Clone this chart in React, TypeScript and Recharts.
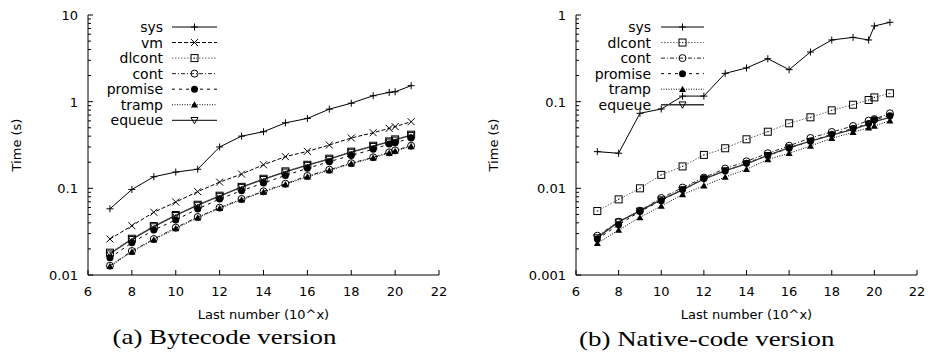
import { LineChart, Line, XAxis, YAxis } from 'recharts';

// x = log10 of the last number
const xs = [7, 8, 9, 10, 11, 12, 13, 14, 15, 16, 17, 18, 19, 19.73, 20, 20.73];
const xTicks = [6, 8, 10, 12, 14, 16, 18, 20, 22];

// (a) bytecode version, seconds
const bytecodeSys = [0.058, 0.097, 0.136, 0.154, 0.166, 0.3, 0.4, 0.45, 0.57, 0.64, 0.82, 0.96, 1.17, 1.28, 1.3, 1.53];
const bytecodeVm = [0.026, 0.037, 0.053, 0.0695, 0.0916, 0.118, 0.146, 0.187, 0.232, 0.267, 0.316, 0.381, 0.438, 0.492, 0.515, 0.587];
const bytecodeDlcont = [0.0181, 0.0262, 0.0367, 0.0492, 0.0647, 0.0822, 0.104, 0.129, 0.157, 0.187, 0.22, 0.265, 0.31, 0.348, 0.367, 0.416];
const bytecodeCont = [0.0128, 0.0189, 0.026, 0.0352, 0.0467, 0.0598, 0.0754, 0.0923, 0.113, 0.139, 0.164, 0.195, 0.228, 0.26, 0.274, 0.31];
const bytecodePromise = [0.0158, 0.0236, 0.033, 0.0432, 0.0578, 0.0754, 0.094, 0.115, 0.141, 0.17, 0.203, 0.24, 0.282, 0.325, 0.336, 0.381];
const bytecodeTramp = [0.0126, 0.0185, 0.0255, 0.0345, 0.0458, 0.0588, 0.074, 0.091, 0.111, 0.136, 0.161, 0.192, 0.225, 0.256, 0.27, 0.305];
const bytecodeEqueue = [0.0176, 0.0258, 0.0362, 0.0488, 0.064, 0.0812, 0.103, 0.127, 0.155, 0.185, 0.217, 0.262, 0.306, 0.344, 0.362, 0.41];

// (b) native-code version, seconds
const nativeSys = [0.0265, 0.0254, 0.0734, 0.0823, 0.116, 0.116, 0.212, 0.245, 0.313, 0.234, 0.374, 0.515, 0.552, 0.515, 0.747, 0.823];
const nativeDlcont = [0.00547, 0.00746, 0.01, 0.0143, 0.0179, 0.0243, 0.029, 0.0368, 0.045, 0.0563, 0.066, 0.0794, 0.0922, 0.1045, 0.112, 0.125];
const nativeCont = [0.00284, 0.00412, 0.00552, 0.00773, 0.0102, 0.0133, 0.0169, 0.0205, 0.0254, 0.031, 0.0381, 0.0447, 0.0524, 0.0604, 0.063, 0.0734];
const nativePromise = [0.0026, 0.0038, 0.0054, 0.0072, 0.0097, 0.013, 0.0158, 0.0195, 0.024, 0.029, 0.035, 0.042, 0.049, 0.056, 0.062, 0.069];
const nativeTramp = [0.00232, 0.0033, 0.00462, 0.00625, 0.0085, 0.0107, 0.0135, 0.0166, 0.0215, 0.0254, 0.0308, 0.0378, 0.0443, 0.05, 0.0524, 0.0604];
const nativeEqueue = [0.0027, 0.0041, 0.0055, 0.0074, 0.0096, 0.0128, 0.016, 0.0192, 0.024, 0.0295, 0.035, 0.041, 0.048, 0.055, 0.059, 0.066];

const bytecodeSeries: [string, number[]][] = [
  ['sys', bytecodeSys],
  ['vm', bytecodeVm],
  ['dlcont', bytecodeDlcont],
  ['cont', bytecodeCont],
  ['promise', bytecodePromise],
  ['tramp', bytecodeTramp],
  ['equeue', bytecodeEqueue],
];
const nativeSeries: [string, number[]][] = [
  ['sys', nativeSys],
  ['dlcont', nativeDlcont],
  ['cont', nativeCont],
  ['promise', nativePromise],
  ['tramp', nativeTramp],
  ['equeue', nativeEqueue],
];

// gnuplot-ish monochrome styles
const styles: Record<string, { kind: string; dash?: string; color: string; width: number }> = {
  sys: { kind: 'plus', color: '#000', width: 1 },
  vm: { kind: 'cross', dash: '4 2', color: '#000', width: 1 },
  dlcont: { kind: 'square', dash: '1.5 1.5', color: '#666', width: 1 },
  cont: { kind: 'circle', dash: '4 2 1 2', color: '#222', width: 1 },
  promise: { kind: 'dot', dash: '3 4', color: '#000', width: 1 },
  tramp: { kind: 'tri', dash: '1 1.5', color: '#000', width: 1 },
  equeue: { kind: 'itri', color: '#333', width: 1.3 },
};

const FONT = "'DejaVu Sans', sans-serif";
const FS = 13;

const Mark = ({ cx, cy, kind }: any) => {
  const s = 3.5;
  const st = { stroke: '#000', strokeWidth: 1, fill: 'none' };
  switch (kind) {
    case 'plus':
      return <path d={`M${cx - s},${cy}H${cx + s}M${cx},${cy - s}V${cy + s}`} {...st} />;
    case 'cross':
      return <path d={`M${cx - s},${cy - s}L${cx + s},${cy + s}M${cx - s},${cy + s}L${cx + s},${cy - s}`} {...st} />;
    case 'square':
      return (
        <g>
          <rect x={cx - s} y={cy - s} width={2 * s} height={2 * s} {...st} />
          <circle cx={cx} cy={cy} r={0.6} fill="#000" />
        </g>
      );
    case 'circle':
      return <circle cx={cx} cy={cy} r={s} {...st} />;
    case 'dot':
      return <circle cx={cx} cy={cy} r={s} fill="#000" />;
    case 'tri':
      return <path d={`M${cx},${cy - s}L${cx + s},${cy + s * 0.8}L${cx - s},${cy + s * 0.8}Z`} fill="#000" />;
    case 'itri':
      return <path d={`M${cx},${cy + s}L${cx + s},${cy - s * 0.8}L${cx - s},${cy - s * 0.8}Z`} {...st} />;
  }
  return null;
};

const isMajor = (v: number) => Math.abs(Math.log10(v) - Math.round(Math.log10(v))) < 1e-6;
const fmt = (v: number) => String(parseFloat(v.toPrecision(1)));

const logTicks = (lo: number, hi: number) => {
  const out: number[] = [];
  for (let d = lo; d < hi * 0.999; d *= 10) {
    for (let k = 1; k < 10; k++) out.push(parseFloat((d * k).toPrecision(3)));
  }
  out.push(hi);
  return out;
};

const BottomTick = ({ x, y, payload }: any) => (
  <g>
    <line x1={x} x2={x} y1={y} y2={y - 5} stroke="#000" />
    <text x={x} y={y + 21} textAnchor="middle" fontFamily={FONT} fontSize={FS} fill="#000">
      {payload.value}
    </text>
  </g>
);
const TopTick = ({ x, y }: any) => <line x1={x} x2={x} y1={y} y2={y + 5} stroke="#000" />;
const LeftTick = ({ x, y, payload }: any) => {
  const major = isMajor(payload.value);
  return (
    <g>
      <line x1={x} x2={x + (major ? 5 : 3)} y1={y} y2={y} stroke="#000" />
      {major && (
        <text x={x - 10} y={y + 5} textAnchor="end" fontFamily={FONT} fontSize={FS} fill="#000">
          {fmt(payload.value)}
        </text>
      )}
    </g>
  );
};
const RightTick = ({ x, y, payload }: any) => {
  const major = isMajor(payload.value);
  return <line x1={x} x2={x - (major ? 5 : 3)} y1={y} y2={y} stroke="#000" />;
};

const XLabel = ({ viewBox }: any) => (
  <text x={viewBox.x + viewBox.width / 2} y={viewBox.y + 44} textAnchor="middle" fontFamily={FONT} fontSize={FS} fill="#000">
    Last number (10^x)
  </text>
);
const YLabel = ({ viewBox, at }: any) => {
  const cy = viewBox.y + viewBox.height / 2;
  return (
    <text transform={`translate(${at},${cy}) rotate(-90)`} textAnchor="middle" dominantBaseline="central" fontFamily={FONT} fontSize={FS} fill="#000">
      Time (s)
    </text>
  );
};

const LegendBox = ({ names, textRight, lineFrom, lineTo }: any) => (
  <svg width={300} height={140} style={{ position: 'absolute', left: 0, top: 0, pointerEvents: 'none' }}>
    {names.map((n: string, i: number) => {
      const y = 27 + i * 15.55;
      const st = styles[n];
      return (
        <g key={n}>
          <text x={textRight} y={y + 5} textAnchor="end" fontFamily={FONT} fontSize={FS + 1} fill="#000">
            {n}
          </text>
          <line x1={lineFrom} x2={lineTo} y1={y} y2={y} stroke={st.color} strokeWidth={st.width} strokeDasharray={st.dash} />
          <Mark cx={(lineFrom + lineTo) / 2} cy={y} kind={st.kind} />
        </g>
      );
    })}
  </svg>
);

function Panel({ series, yMin, yMax, axisWidth, rightMargin, labelAt, legend, caption, left }: any) {
  const data = xs.map((x, i) => {
    const row: Record<string, number> = { x };
    series.forEach(([n, vals]: [string, number[]]) => (row[n] = vals[i]));
    return row;
  });
  const yTicks = logTicks(yMin, yMax);
  return (
    <div style={{ position: 'absolute', left, top: 0, width: 465, height: 352 }}>
      <LineChart width={465} height={352} data={data} margin={{ top: 15, right: rightMargin, bottom: 47, left: 0 }}>
        <XAxis
          dataKey="x"
          type="number"
          domain={[6, 22]}
          ticks={xTicks}
          interval={0}
          allowDataOverflow
          height={30}
          tickSize={0}
          tickMargin={0}
          tick={<BottomTick />}
          axisLine={{ stroke: '#000' }}
          label={<XLabel />}
        />
        <XAxis
          xAxisId="top"
          orientation="top"
          dataKey="x"
          type="number"
          domain={[6, 22]}
          ticks={xTicks}
          interval={0}
          allowDataOverflow
          height={0}
          tickSize={0}
          tickMargin={0}
          tick={<TopTick />}
          axisLine={{ stroke: '#000' }}
        />
        <YAxis
          type="number"
          scale="log"
          domain={[yMin, yMax]}
          ticks={yTicks}
          interval={0}
          allowDataOverflow
          width={axisWidth}
          tickSize={0}
          tickMargin={0}
          tick={<LeftTick />}
          axisLine={{ stroke: '#000' }}
          label={<YLabel at={labelAt} />}
        />
        <YAxis
          yAxisId="right"
          orientation="right"
          type="number"
          scale="log"
          domain={[yMin, yMax]}
          ticks={yTicks}
          interval={0}
          allowDataOverflow
          width={0}
          tickSize={0}
          tickMargin={0}
          tick={<RightTick />}
          axisLine={{ stroke: '#000' }}
        />
        {series.map(([n]: [string, number[]]) => {
          const st = styles[n];
          return (
            <Line
              key={n}
              dataKey={n}
              type="linear"
              stroke={st.color}
              strokeWidth={st.width}
              strokeDasharray={st.dash}
              isAnimationActive={false}
              activeDot={false}
              dot={(p: any) => <Mark key={`${n}-${p.index}`} cx={p.cx} cy={p.cy} kind={st.kind} />}
            />
          );
        })}
      </LineChart>
      <LegendBox names={series.map((s: any) => s[0])} {...legend} />
      <div
        style={{
          position: 'absolute',
          left: 0,
          width: caption.center * 2,
          top: caption.top,
          textAlign: 'center',
          fontFamily: "'Liberation Serif', serif",
          fontSize: 21,
          color: '#000',
          whiteSpace: 'nowrap',
        }}
      >
        <span style={{ display: 'inline-block', transform: 'scaleX(1.28)' }}>{caption.text}</span>
      </div>
    </div>
  );
}

export default function App() {
  return (
    <div style={{ position: 'absolute', left: 0, top: 0, width: 930, height: 352, background: '#fff', overflow: 'hidden' }}>
      <Panel
        left={0}
        series={bytecodeSeries}
        yMin={0.01}
        yMax={10}
        axisWidth={88}
        rightMargin={26}
        labelAt={16}
        legend={{ textRight: 163, lineFrom: 172, lineTo: 217 }}
        caption={{ text: '(a) Bytecode version', center: 224, top: 325 }}
      />
      <Panel
        left={465}
        series={nativeSeries}
        yMin={0.001}
        yMax={1}
        axisWidth={111}
        rightMargin={13}
        labelAt={28}
        legend={{ textRight: 186, lineFrom: 196, lineTo: 239 }}
        caption={{ text: '(b) Native-code version', center: 242, top: 327 }}
      />
    </div>
  );
}
